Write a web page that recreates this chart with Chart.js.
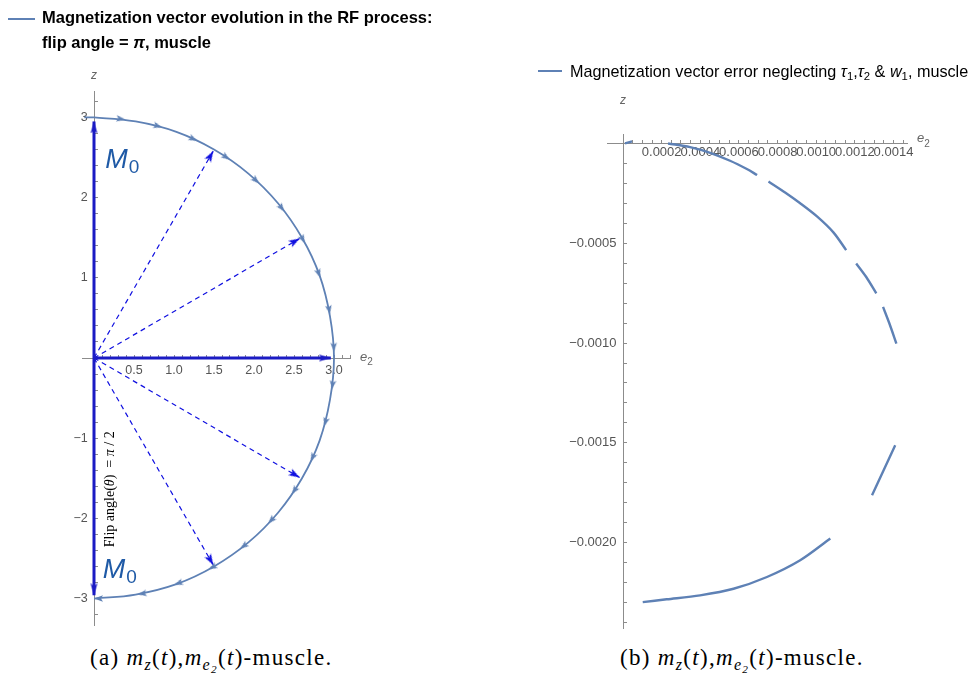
<!DOCTYPE html>
<html>
<head>
<meta charset="utf-8">
<script src="https://cdn.jsdelivr.net/npm/chart.js@4.4.1/dist/chart.umd.min.js"></script>
<style>
  body { margin: 0; background: #fff; width: 974px; height: 675px; position: relative; overflow: hidden;
         font-family: "Liberation Sans", Arial, sans-serif; }
  canvas { position: absolute; top: 0; }
  #left { left: 0; }
  #right { left: 520px; }
  .swatch { position: absolute; height: 2px; background: #5E81B5; }
  .leg { position: absolute; color: #000; white-space: nowrap; }
  .leg sub, .cap sub { font-size: 0.7em; vertical-align: -0.3em; line-height: 0; }
  .cap { position: absolute; top: 645px; font-family: "Liberation Serif", "DejaVu Serif", serif; font-size: 23px;
         letter-spacing: 1.3px; white-space: nowrap; }
</style>
</head>
<body>
<canvas id="left" width="510" height="640"></canvas>
<canvas id="right" width="454" height="640"></canvas>

<div class="swatch" style="left:8px; top:18px; width:27px;"></div>
<div class="leg" style="left:42px; top:5px; font-weight:bold; font-size:16.5px; line-height:25px;">Magnetization vector evolution in the RF process:<br>flip angle = <i>π</i>, muscle</div>

<div class="swatch" style="left:538px; top:70px; width:24px;"></div>
<div class="leg" style="left:570px; top:61px; font-size:16.2px; line-height:20px;">Magnetization vector error neglecting <i>τ</i><sub>1</sub>,<i>τ</i><sub>2</sub> &amp; <i>w</i><sub>1</sub>, muscle</div>

<div class="cap" style="left:90px;">(a) <i>m<sub>z</sub></i>(<i>t</i>),<i>m<sub>e<sub>2</sub></sub></i>(<i>t</i>)-muscle.</div>
<div class="cap" style="left:620px;">(b) <i>m<sub>z</sub></i>(<i>t</i>),<i>m<sub>e<sub>2</sub></sub></i>(<i>t</i>)-muscle.</div>

<script>
// ---------- (a) magnetization trajectory during the RF pulse, muscle ----------
// tip of the magnetization vector (e2, z), following the flip from +M0 to -M0
const curveE2 = [-0.12, 0.00, 0.52, 1.03, 1.50, 1.93, 2.30, 2.60, 2.82, 2.95, 3.00,
                 2.95, 2.82, 2.60, 2.30, 1.93, 1.50, 1.03, 0.52, 0.00];
const curveZ  = [ 3.00, 3.00, 2.95, 2.82, 2.60, 2.30, 1.93, 1.50, 1.03, 0.52, 0.00,
                 -0.52, -1.03, -1.50, -1.93, -2.30, -2.60, -2.82, -2.95, -3.00];
// direction markers along the trajectory (degrees from +z, clockwise)
const flowAngles = [7.5, 16.5, 25.5, 34.5, 43.5, 52.5, 61.5, 70.5, 79.5, 88.5,
                    97.5, 106.5, 115.5, 124.5, 133.5, 142.5, 151.5, 160.5, 169.5, 180];
const M0 = 3.0;
// solid vectors: +M0, transverse M at pi/2, -M0
const solidTipE2 = [0.00, 2.96, 0.00];
const solidTipZ  = [2.95, 0.00, -2.96];
// dashed vectors: intermediate positions of M
const dashTipE2 = [1.49, 2.57, 2.57, 1.49];
const dashTipZ  = [2.58, 1.49, -1.49, -2.58];
// axis tick labels
const leftXLabels = ['0.5', '1.0', '1.5', '2.0', '2.5', '3.0'];
const leftYLabels = ['\u22123', '\u22122', '\u22121', '1', '2', '3'];

// ---------- (b) magnetization error neglecting relaxation, muscle ----------
// null entries separate the drawn pieces of the curve
const errE2 = [0.000010, 0.000047, null,
               0.000233, 0.000347, 0.000451, 0.000554, 0.000641, 0.000694, null,
               0.000753, 0.000839, 0.000917, 0.001004, 0.001090, 0.001155, null,
               0.001207, 0.001259, 0.001311, null,
               0.001346, 0.001378, 0.001415, null,
               0.001409, 0.001349, 0.001289, null,
               0.001073, 0.000917, 0.000745, 0.000572, 0.000399, 0.000226, 0.000102];
const errZ  = [0.0000025, 0.0000126, null,
               0.0000025, -0.0000161, -0.0000447, -0.0000844, -0.000126, -0.000156, null,
               -0.000189, -0.000244, -0.000298, -0.000364, -0.000445, -0.000533, null,
               -0.000600, -0.000668, -0.000750, null,
               -0.000818, -0.000899, -0.001002, null,
               -0.001513, -0.001638, -0.001764, null,
               -0.001981, -0.002090, -0.002174, -0.002233, -0.002266, -0.002286, -0.002300];
const rightXLabels = ['0.0002', '0.0004', '0.0006', '0.0008', '0.0010', '0.0012', '0.0014'];
const rightYLabels = ['\u22120.0020', '\u22120.0015', '\u22120.0010', '\u22120.0005'];

// ---------- styling ----------
const AXIS_GREY = '#8c8c8c';
const TICK_TEXT = '#555555';
const CURVE = '#5E81B5';
const VEC = '#1b1bc4';
const DASH_VEC = '#1010e0';
const M0_BLUE = '#1f5aa6';
const SANS = '"Liberation Sans", Arial, sans-serif';
const SERIF = '"Liberation Serif", "Times New Roman", serif';

// arrowhead sprite pointing up, its tip at the sprite centre
function makeHead(len, width, color) {
  const c = document.createElement('canvas');
  c.width = Math.ceil(width) + 2;
  c.height = 2 * len;
  const g = c.getContext('2d');
  const cx = c.width / 2;
  g.fillStyle = color;
  g.beginPath();
  g.moveTo(cx, len);
  g.lineTo(cx + width / 2, 2 * len);
  g.lineTo(cx, 2 * len - len * 0.22);
  g.lineTo(cx - width / 2, 2 * len);
  g.closePath();
  g.fill();
  return c;
}
const flowHead = makeHead(9, 6.5, CURVE);
const solidHead = makeHead(12, 7, VEC);
const dashHead = makeHead(11, 7.5, DASH_VEC);

const toPoints = (xs, ys) => xs.map((v, i) => ({ x: v, y: ys[i] }));
const headingDeg = (e2, z) => Math.atan2(e2, z) * 180 / Math.PI;
const near = (a, b) => Math.abs(a - b) < 1e-9;

function labelFor(list, value, fmt) {
  const s = fmt(value);
  return list.includes(s) ? s : '';
}

function drawRuns(ctx, runs, x, y) {
  let cx = x;
  runs.forEach(r => {
    ctx.font = r.font;
    ctx.fillText(r.t, cx, y + (r.dy || 0));
    cx += ctx.measureText(r.t).width + (r.gap || 0);
  });
}

// ---------- chart (a) ----------
const leftDatasets = [];
leftDatasets.push({
  data: flowAngles.map(a => ({ x: M0 * Math.sin(a * Math.PI / 180), y: M0 * Math.cos(a * Math.PI / 180) })),
  showLine: false, pointRadius: 1, pointStyle: flowHead,
  pointRotation: flowAngles.map(a => a + 90), clip: false
});
leftDatasets.push({
  data: toPoints(curveE2, curveZ),
  showLine: true, borderColor: CURVE, borderWidth: 1.8, tension: 0.4,
  pointRadius: 0, clip: false
});
solidTipE2.forEach((e, i) => {
  const z = solidTipZ[i];
  leftDatasets.push({
    data: [{ x: 0, y: 0 }, { x: e, y: z }],
    showLine: true, borderColor: VEC, borderWidth: 3, borderCapStyle: 'butt',
    pointRadius: [0, 1], pointStyle: solidHead, pointRotation: [0, headingDeg(e, z)], clip: false
  });
});
dashTipE2.forEach((e, i) => {
  const z = dashTipZ[i];
  leftDatasets.push({
    data: [{ x: 0, y: 0 }, { x: e, y: z }],
    showLine: true, borderColor: DASH_VEC, borderWidth: 1.2, borderDash: [5, 4],
    pointRadius: [0, 1], pointStyle: dashHead, pointRotation: [0, headingDeg(e, z)], clip: false
  });
});

const leftNotes = {
  id: 'leftNotes',
  afterDatasetsDraw(chart) {
    const { ctx, scales: { x, y }, chartArea } = chart;
    ctx.save();
    ctx.textBaseline = 'alphabetic';
    ctx.textAlign = 'left';
    // axis names
    ctx.fillStyle = '#666';
    ctx.font = 'italic 12px ' + SANS;
    ctx.fillText('z', x.getPixelForValue(0) - 3, chartArea.top - 12);
    drawRuns(ctx, [{ t: 'e', font: 'italic 13px ' + SANS }, { t: '2', font: '10px ' + SANS, dy: 4 }],
      chartArea.right + 10, y.getPixelForValue(0) + 3);
    // M0 labels
    ctx.fillStyle = M0_BLUE;
    const m0 = [{ t: 'M', font: 'italic 27px ' + SANS, gap: 1 }, { t: '0', font: '19px ' + SANS, dy: 5 }];
    drawRuns(ctx, m0, x.getPixelForValue(0.14), y.getPixelForValue(2.375));
    drawRuns(ctx, m0, x.getPixelForValue(0.11), y.getPixelForValue(-2.74));
    // flip angle note, written upward along the -z axis
    ctx.fillStyle = '#000';
    ctx.translate(x.getPixelForValue(0.2), y.getPixelForValue(-2.36));
    ctx.rotate(-Math.PI / 2);
    ctx.textBaseline = 'middle';
    drawRuns(ctx, [
      { t: 'Flip angle(', font: '14px ' + SERIF },
      { t: '\u03B8', font: 'italic 14px ' + SERIF },
      { t: ')  = ', font: '14px ' + SERIF },
      { t: '\u03C0', font: 'italic 14px ' + SERIF },
      { t: ' / 2', font: '14px ' + SERIF }
    ], 0, 0);
    ctx.restore();
  }
};

new Chart(document.getElementById('left'), {
  type: 'scatter',
  data: { datasets: leftDatasets },
  options: {
    responsive: false, animation: false, events: [],
    layout: { padding: { left: 82, right: 160, top: 91, bottom: 15 } },
    plugins: { legend: { display: false }, tooltip: { enabled: false } },
    scales: {
      x: {
        type: 'linear', min: -0.15, max: 3.2, position: { y: 0 },
        afterFit: s => { s.height = 0; },
        border: { color: AXIS_GREY, width: 1 },
        grid: { drawOnChartArea: false, drawTicks: true, tickLength: -4,
                tickColor: c => (c.tick && c.tick.value > 0.05) ? AXIS_GREY : 'rgba(0,0,0,0)' },
        ticks: { stepSize: 0.1, includeBounds: false, autoSkip: false, maxRotation: 0, minRotation: 0,
                 padding: 9, color: TICK_TEXT, font: { family: SANS, size: 12.5 },
                 callback: v => labelFor(leftXLabels, v, t => (Math.round(t * 10) / 10).toFixed(1)) }
      },
      y: {
        type: 'linear', min: -3.33, max: 3.33, position: { x: 0 },
        afterFit: s => { s.width = 0; },
        border: { color: AXIS_GREY, width: 1 },
        grid: { drawOnChartArea: false, drawTicks: true, tickLength: -4,
                tickColor: c => (c.tick && !near(c.tick.value, 0)) ? AXIS_GREY : 'rgba(0,0,0,0)' },
        ticks: { stepSize: 0.2, includeBounds: false, autoSkip: false, color: TICK_TEXT,
                 font: { family: SANS, size: 12.5 },
                 callback: v => {
                   const s = labelFor(leftYLabels, v, t => near(t, Math.round(t)) ? String(Math.round(t)).replace('-', '\u2212') : '');
                   return s ? s + '\u2002' : '';
                 } }
      }
    }
  },
  plugins: [leftNotes]
});

// ---------- chart (b) ----------
const X_MINOR = 0.00005;   // minor tick spacing on e2; labels every fourth
const rightNotes = {
  id: 'rightNotes',
  afterDatasetsDraw(chart) {
    const { ctx, scales: { x, y }, chartArea } = chart;
    ctx.save();
    ctx.fillStyle = '#666';
    ctx.textAlign = 'left';
    ctx.textBaseline = 'alphabetic';
    ctx.font = 'italic 12px ' + SANS;
    ctx.fillText('z', x.getPixelForValue(0) - 3, chartArea.top - 30);
    drawRuns(ctx, [{ t: 'e', font: 'italic 13px ' + SANS }, { t: '2', font: '10px ' + SANS, dy: 5 }],
      chartArea.right + 10, y.getPixelForValue(0) - 2);
    ctx.restore();
  }
};

new Chart(document.getElementById('right'), {
  type: 'scatter',
  data: {
    datasets: [{
      data: toPoints(errE2, errZ),
      showLine: true, spanGaps: false, borderColor: CURVE, borderWidth: 2.4, tension: 0.3,
      pointRadius: 0, clip: false
    }]
  },
  options: {
    responsive: false, animation: false, events: [],
    layout: { padding: { left: 87, right: 67, top: 134, bottom: 12 } },
    plugins: { legend: { display: false }, tooltip: { enabled: false } },
    scales: {
      x: {
        type: 'linear', min: -0.000083, max: 0.00147, position: { y: 0 },
        afterFit: s => { s.height = 0; },
        border: { color: AXIS_GREY, width: 1 },
        grid: { drawOnChartArea: false, drawTicks: true, tickLength: -4,
                tickColor: c => (c.tick && c.tick.value > 0.00001) ? AXIS_GREY : 'rgba(0,0,0,0)' },
        ticks: { stepSize: X_MINOR, includeBounds: false, autoSkip: false, maxRotation: 0, minRotation: 0,
                 padding: 5, color: TICK_TEXT, font: { family: SANS, size: 13 },
                 callback: v => {
                   const k = Math.round(v / X_MINOR);
                   if (k % 4 !== 0) return '';
                   return labelFor(rightXLabels, k * X_MINOR, t => t.toFixed(4));
                 } }
      },
      y: {
        type: 'linear', min: -0.00243, max: 0.00005, position: { x: 0 },
        afterFit: s => { s.width = 0; },
        border: { color: AXIS_GREY, width: 1 },
        grid: { drawOnChartArea: false, drawTicks: true, tickLength: -4,
                tickColor: c => (c.tick && Math.abs(c.tick.value) > 0.00001) ? AXIS_GREY : 'rgba(0,0,0,0)' },
        ticks: { stepSize: 0.0001, includeBounds: false, autoSkip: false, color: TICK_TEXT,
                 font: { family: SANS, size: 13 },
                 callback: v => {
                   const s = labelFor(rightYLabels, v, t => (Math.round(t * 1e4) / 1e4).toFixed(4).replace('-', '\u2212'));
                   return s ? s + '\u2002' : '';
                 } }
      }
    }
  },
  plugins: [rightNotes]
});
</script>
</body>
</html>
